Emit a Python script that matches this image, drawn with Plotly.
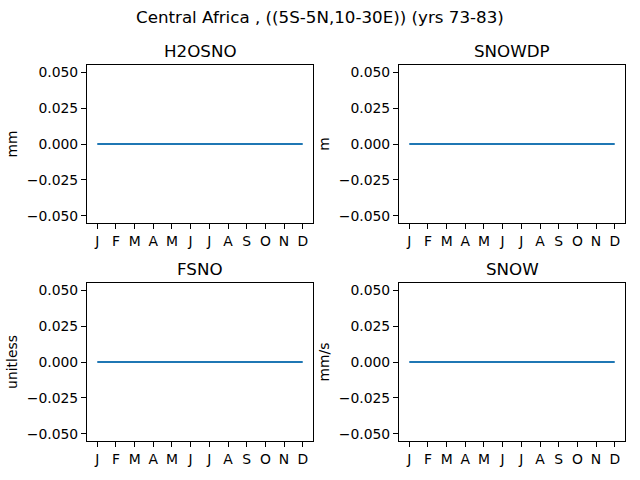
import plotly.graph_objects as go

months = ["J", "F", "M", "A", "M", "J", "J", "A", "S", "O", "N", "D"]
month_index = list(range(12))
panel_titles = ["H2OSNO", "SNOWDP", "FSNO", "SNOW"]
panel_units = ["mm", "m", "unitless", "mm/s"]
h2osno = [0.0] * 12
snowdp = [0.0] * 12
fsno = [0.0] * 12
snow = [0.0] * 12
series = [h2osno, snowdp, fsno, snow]
yticks = [-0.05, -0.025, 0.0, 0.025, 0.05]
yticklabels = ["\u22120.050", "\u22120.025", "0.000", "0.025", "0.050"]
suptitle = "Central Africa , ((5S-5N,10-30E)) (yrs 73-83)"

W, H = 640, 480
# axes boxes in pixels (left, right, top, bottom)
boxes = [(87, 313, 65, 223), (399, 625, 65, 223), (87, 313, 283, 441), (399, 625, 283, 441)]

fig = go.Figure()
FONT = "DejaVu Sans"
annotations = []
for i, (vals, title, unit, box) in enumerate(zip(series, panel_titles, panel_units, boxes)):
    n = i + 1
    xa = "x" if n == 1 else f"x{n}"
    ya = "y" if n == 1 else f"y{n}"
    fig.add_trace(go.Scatter(x=month_index, y=vals, mode="lines",
                             line=dict(color="#1f77b4", width=2),
                             xaxis=xa, yaxis=ya, showlegend=False))
    l, r, t, b = box
    xd = [l / W, r / W]
    yd = [1 - b / H, 1 - t / H]
    axcommon = dict(showline=True, mirror=True, linecolor="black", linewidth=1.1,
                    ticks="outside", ticklen=5, tickwidth=1.1, tickcolor="black",
                    showgrid=False, zeroline=False, automargin=False,
                    tickfont=dict(family=FONT, size=13.9, color="black"))
    xkey = "xaxis" if n == 1 else f"xaxis{n}"
    ykey = "yaxis" if n == 1 else f"yaxis{n}"
    fig.update_layout(**{
        xkey: dict(domain=xd, range=[-0.55, 11.55], tickmode="array",
                   tickvals=month_index, ticktext=months, anchor=ya, **axcommon),
        ykey: dict(domain=yd, range=[-0.055, 0.055], tickmode="array",
                   tickvals=yticks, ticktext=yticklabels, anchor=xa,
                   title=dict(text=unit, font=dict(family=FONT, size=13.9, color="black"), standoff=5),
                   **axcommon),
    })
    annotations.append(dict(text=title, x=(l + r) / 2 / W, y=1 - (t - 2) / H,
                            xref="paper", yref="paper", xanchor="center", yanchor="bottom",
                            showarrow=False, font=dict(family=FONT, size=16.7, color="black")))

annotations.append(dict(text=suptitle, x=0.5, y=1 - 5 / H, xref="paper", yref="paper",
                        xanchor="center", yanchor="top", showarrow=False,
                        font=dict(family=FONT, size=16.7, color="black")))

fig.update_layout(width=W, height=H, margin=dict(l=0, r=0, t=0, b=0, autoexpand=False),
                  paper_bgcolor="white", plot_bgcolor="white",
                  annotations=annotations)
fig.write_html("out.html", config={"displayModeBar": False},
               post_script="document.body.style.margin='0';document.body.style.overflow='hidden';")
